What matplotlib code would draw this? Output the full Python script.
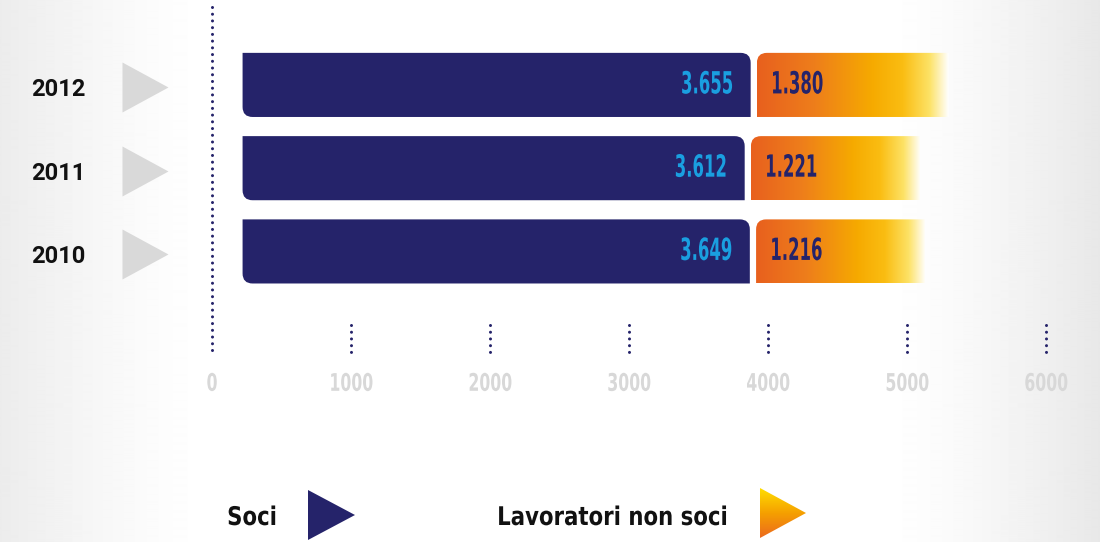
import numpy as np
import matplotlib
matplotlib.use("Agg")
import matplotlib.pyplot as plt
from matplotlib.path import Path
from matplotlib.patches import PathPatch, Polygon
from matplotlib.colors import LinearSegmentedColormap
from matplotlib.transforms import blended_transform_factory, Affine2D
from matplotlib.patheffects import AbstractPathEffect

# dati
years = ['2010', '2011', '2012']
soci = [3649, 3612, 3655]
non_soci = [1216, 1221, 1380]
soci_labels = ['3.649', '3.612', '3.655']
non_soci_labels = ['1.216', '1.221', '1.380']
xticks = [0, 1000, 2000, 3000, 4000, 5000, 6000]

NAVY = '#25236a'
SKY = '#1a9fe0'
TRI_GREY = '#d9d9d9'
TICK_GREY = '#d8d8d8'
COND = ['DejaVu Sans']

W, H = 1100, 542
XMIN, XMAX = -1525, 6388
YMIN, YMAX = -3.49, 3.02
SX = W / (XMAX - XMIN)   # px per unità x
SY = H / (YMAX - YMIN)   # px per unità y


class Squeeze(AbstractPathEffect):
    """stringe il testo in orizzontale (font condensato tipo DIN)"""
    def __init__(self, sx=0.7, anchor='center'):
        super().__init__()
        self.sx = sx
        self.anchor = anchor

    def draw_path(self, renderer, gc, tpath, affine, rgbFace=None):
        ext = tpath.get_extents()
        cx = {'left': ext.x0, 'right': ext.x1, 'center': 0.5 * (ext.x0 + ext.x1)}[self.anchor]
        t = Affine2D().translate(-cx, 0).scale(self.sx, 1).translate(cx, 0) + affine
        renderer.draw_path(gc, tpath, t, rgbFace)


fig = plt.figure(figsize=(W / 100, H / 100), dpi=100)

# sfondo con sfumature grigie ai lati
bg = fig.add_axes([0, 0, 1, 1], zorder=0)
u = np.linspace(0, 1, 1100)
shade = np.clip(1 - u / 0.19, 0, 1) ** 1.3 * 0.075 + np.clip((u - 0.8) / 0.2, 0, 1) ** 1.4 * 0.09
bg.imshow(np.tile(1 - shade, (2, 1)), cmap='gray', vmin=0, vmax=1,
          aspect='auto', extent=(0, 1, 0, 1), interpolation='bilinear')
bg.axis('off')

ax = fig.add_axes([0, 0, 1, 1], zorder=1)
ax.set_xlim(XMIN, XMAX)
ax.set_ylim(YMIN, YMAX)
ax.patch.set_alpha(0)
ax.axis('off')


def rounded_path(x0, x1, y0, y1, round_set, r=10):
    rx, ry = r / SX, r / SY
    pts = {
        'bl': ((x0, y0 + ry), (x0, y0), (x0 + rx, y0)),
        'br': ((x1 - rx, y0), (x1, y0), (x1, y0 + ry)),
        'tr': ((x1, y1 - ry), (x1, y1), (x1 - rx, y1)),
        'tl': ((x0 + rx, y1), (x0, y1), (x0, y1 - ry)),
    }
    verts, codes = [], []
    for k in ['bl', 'br', 'tr', 'tl']:
        b, c, a = pts[k]
        if k in round_set:
            verts += [b, c, a]
            codes += [Path.LINETO, Path.CURVE3, Path.CURVE3]
        else:
            verts += [c]
            codes += [Path.LINETO]
    codes[0] = Path.MOVETO
    verts.append(verts[0])
    codes.append(Path.CLOSEPOLY)
    return Path(verts, codes)


grad = LinearSegmentedColormap.from_list('nonsoci', [
    (0.0, '#e8601e'), (0.3, '#ee7e1b'), (0.6, '#f6aa00'),
    (0.76, '#fabd12'), (0.9, '#fde266'), (1.0, '#ffffff')])

y = np.arange(len(years))
bar_h = 0.77
start = 220
gap = 45
b1 = ax.barh(y, soci, height=bar_h, left=start, color='none')
b2 = ax.barh(y, non_soci, height=bar_h, left=np.array(soci) + start + gap, color='none')

for i, rect in enumerate(b1.patches):
    x0, y0 = rect.get_x(), rect.get_y()
    x1, y1 = x0 + rect.get_width(), y0 + rect.get_height()
    ax.add_patch(PathPatch(rounded_path(x0, x1, y0, y1, {'bl', 'tr'}),
                           facecolor=NAVY, edgecolor='none', zorder=3))
    ax.text(x1 - 17 / SX, y[i], soci_labels[i], ha='right', va='center',
            fontsize=22, fontweight='bold', color=SKY, family=COND,
            fontstretch='condensed', zorder=5,
            path_effects=[Squeeze(0.6, 'right')])

for i, rect in enumerate(b2.patches):
    x0, y0 = rect.get_x(), rect.get_y()
    x1, y1 = x0 + rect.get_width(), y0 + rect.get_height()
    patch = PathPatch(rounded_path(x0, x1, y0, y1, {'tl'}),
                      facecolor='none', edgecolor='none', zorder=3)
    ax.add_patch(patch)
    im = ax.imshow(np.linspace(0, 1, 256)[None, :], cmap=grad, aspect='auto',
                   extent=(x0, x1, y0, y1), zorder=3, interpolation='bilinear')
    im.set_clip_path(patch)
    ax.text(x0 + 13 / SX, y[i], non_soci_labels[i], ha='left', va='center',
            fontsize=22, fontweight='bold', color=NAVY, family=COND,
            fontstretch='condensed', zorder=5,
            path_effects=[Squeeze(0.6, 'left')])

ax.set_xlim(XMIN, XMAX)
ax.set_ylim(YMIN, YMAX)

# asse con tratteggi puntinati
dots = dict(color=NAVY, lw=2.2, linestyle=(0, (0.001, 2.2)), dash_capstyle='round')
ax.plot([0, 0], [2.93, -1.24], **dots)
for t in xticks[1:]:
    ax.plot([t, t], [-0.88, -1.21], **dots)
for t in xticks:
    ax.text(t, -1.59, str(t), ha='center', va='center', fontsize=17.5,
            fontweight='bold', color=TICK_GREY, family=COND, fontstretch='condensed',
            path_effects=[Squeeze(0.72, 'center')])

# anni e triangoli grigi a sinistra
blend = blended_transform_factory(fig.transFigure, ax.transData)
tri = [(-0.46, -0.5), (0.46, 0), (-0.46, 0.5)]
for i, yr in enumerate(years):
    ax.text(58 / W, y[i] - 0.06, yr, transform=blend, ha='center', va='center',
            fontsize=17, fontweight='bold', color='#111111', family='Roboto')
    ax.plot([145 / W], [y[i] - 0.03], transform=blend, marker=tri, markersize=36,
            color=TRI_GREY, markeredgewidth=0, linestyle='none')

# legenda
fig.text(227 / W, 1 - 518 / H, 'Soci', ha='left', va='center', fontsize=18.5,
         fontweight='bold', color='#111111', family=COND, fontstretch='condensed',
         path_effects=[Squeeze(0.92, 'left')])
fig.patches.append(Polygon([(308 / W, 1 - 490 / H), (308 / W, 1 - 540 / H), (355 / W, 1 - 515 / H)],
                           closed=True, transform=fig.transFigure, facecolor=NAVY,
                           edgecolor='none', zorder=3))
fig.text(497 / W, 1 - 518 / H, 'Lavoratori non soci', ha='left', va='center', fontsize=18.5,
         fontweight='bold', color='#111111', family=COND, fontstretch='condensed',
         path_effects=[Squeeze(0.92, 'left')])

lax = fig.add_axes([760 / W, 1 - 538 / H, 46 / W, 50 / H], zorder=2)
lax.axis('off')
leg_grad = LinearSegmentedColormap.from_list('leg', ['#ec6a1e', '#f5a000', '#ffde00'])
lim = lax.imshow(np.linspace(0, 1, 128)[:, None], cmap=leg_grad, origin='lower',
                 aspect='auto', extent=(0, 1, 0, 1), interpolation='bilinear')
ltri = Polygon([(0, 0), (0, 1), (1, 0.5)], closed=True, transform=lax.transAxes,
               facecolor='none', edgecolor='none')
lax.add_patch(ltri)
lim.set_clip_path(ltri)

fig.savefig('out.png', dpi=100)
